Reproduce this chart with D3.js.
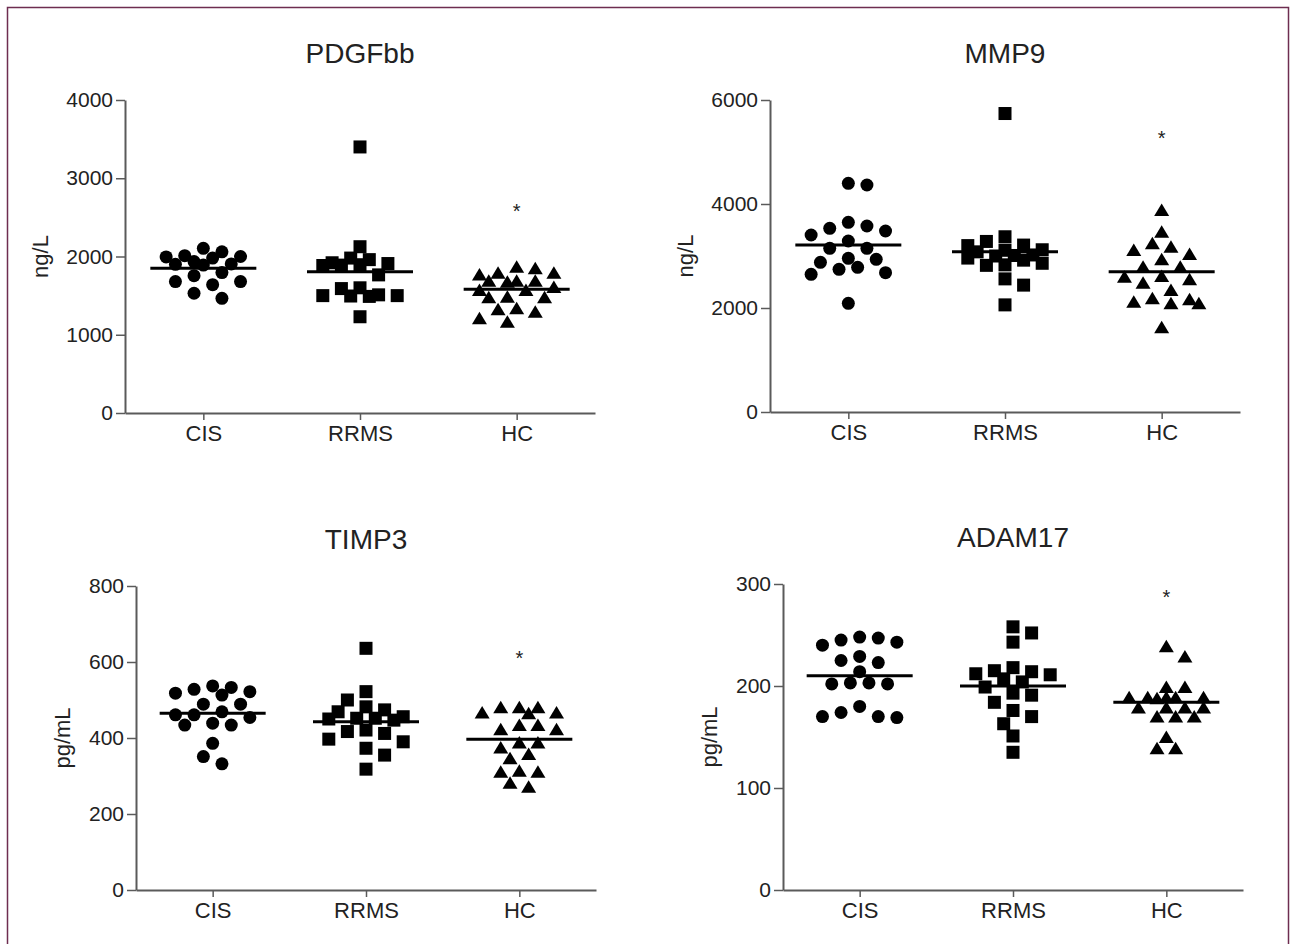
<!DOCTYPE html>
<html>
<head>
<meta charset="utf-8">
<script src="https://cdn.jsdelivr.net/npm/d3@7"></script>
<style>
  body { margin: 0; background: #fff; }
  svg text { font-family: "Liberation Sans", Arial, sans-serif; fill: #222; }
</style>
</head>
<body>
<script>
// groups and panel info
var groups = ["CIS", "RRMS", "HC"];
var panelTitles = ["PDGFbb", "MMP9", "TIMP3", "ADAM17"];
var units = ["ng/L", "ng/L", "pg/mL", "pg/mL"];
var yMaxes = [4000, 6000, 800, 300];
var yTickValues = [[0, 1000, 2000, 3000, 4000], [0, 2000, 4000, 6000], [0, 200, 400, 600, 800], [0, 100, 200, 300]];

// PDGFbb (ng/L)
var pdgfbbCIS = [2105, 2060, 2010, 2000, 1995, 1980, 1935, 1905, 1900, 1890, 1795, 1755, 1680, 1640, 1680, 1530, 1465];
var pdgfbbRRMS = [3400, 2125, 1980, 1960, 1920, 1910, 1895, 1890, 1885, 1765, 1600, 1590, 1510, 1500, 1500, 1495, 1490, 1230];
var pdgfbbHC = [1870, 1793, 1691, 1770, 1678, 1691, 1793, 1691, 1849, 1572, 1610, 1572, 1478, 1478, 1487, 1338, 1295, 1325, 1167, 1210];
var pdgfbbMeans = [1849, 1806, 1580];

// MMP9 (ng/L)
var mmp9CIS = [4365, 4397, 3481, 3577, 3532, 3647, 3404, 3288, 3147, 3147, 2936, 2955, 2782, 2679, 2647, 2744, 2878, 2090];
var mmp9RRMS = [5740, 3370, 3280, 3210, 3200, 3120, 3110, 3080, 3020, 3010, 3000, 2960, 2920, 2860, 2830, 2820, 2560, 2440, 2060];
var mmp9HC = [3885, 3467, 3179, 3038, 3115, 3244, 2936, 2795, 2795, 2603, 2487, 2552, 2615, 2346, 2167, 2090, 2090, 2122, 2186, 1628];
var mmp9Means = [3212, 3083, 2699];

// TIMP3 (pg/mL)
var timp3CIS = [537, 518, 528, 533, 513, 522, 489, 489, 461, 469, 461, 434, 434, 439, 386, 351, 332, 454];
var timp3RRMS = [636, 522, 500, 482, 474, 469, 456, 452, 447, 450, 452, 421, 412, 417, 390, 397, 373, 355, 318];
var timp3HC = [481, 481, 481, 465, 467, 467, 434, 423, 423, 434, 388, 388, 375, 358, 347, 311, 311, 314, 272, 282];
var timp3Means = [465, 443, 397];

// ADAM17 (pg/mL)
var adam17CIS = [248, 245, 243, 247, 240, 229, 223, 225, 214, 203, 202, 202, 203, 180, 170, 169, 170, 174];
var adam17RRMS = [258, 243, 252, 212, 215, 218, 211, 214, 207, 204, 199, 193, 191, 184, 176, 170, 163, 151, 135];
var adam17HC = [239, 229, 199, 199, 189, 189, 189, 189, 189, 188, 179, 179, 179, 179, 170, 170, 170, 150, 139, 139];
var adam17Means = [210, 200, 184];

// significance marks above HC
var starValues = [2636, 5340, 621, 291];

var panelData = [
  [pdgfbbCIS, pdgfbbRRMS, pdgfbbHC],
  [mmp9CIS, mmp9RRMS, mmp9HC],
  [timp3CIS, timp3RRMS, timp3HC],
  [adam17CIS, adam17RRMS, adam17HC]
];
var panelMeans = [pdgfbbMeans, mmp9Means, timp3Means, adam17Means];

// layout of the four panels (pixel boxes of the axes)
var layout = [
  {x0: 125, x1: 595, yTop: 100, yBot: 413},
  {x0: 770, x1: 1240, yTop: 100, yBot: 412},
  {x0: 136, x1: 596, yTop: 586, yBot: 890},
  {x0: 783, x1: 1243, yTop: 584, yBot: 890}
];

var w = 1294, h = 944;
var axis_color = "#5a5a5a";
var tick_font_size = 21;
var label_font_size = 22;
var title_font_size = 28;
var col_step = 9.3;   // half a column of the dot plot
var max_k = 4;        // widest offset, in half columns
var min_dist = 14;
var mean_width = 106;

var svg = d3.select("body").append("svg")
  .attr("width", w).attr("height", h);

// frame
svg.append("rect")
  .attr("x", 7.5).attr("y", 7.5)
  .attr("width", 1281).attr("height", 960)
  .attr("fill", "none")
  .attr("stroke", "#6e2d50")
  .attr("stroke-width", 1.5);

// bounded beeswarm: nearest free slot, else the slot with the least overlap
var swarm = function(values, y){
  var pts = values.map(function(v){ return {v: v, py: y(v)}; })
    .sort(function(a, b){ return a.py - b.py; });
  var placed = [];
  pts.forEach(function(p, i){
    var best = null, bestD = -1;
    for (var k = 0; k <= max_k && best === null; k++){
      var cands = k == 0 ? [0] : (i % 2 ? [k, -k] : [-k, k]);
      for (var c = 0; c < cands.length; c++){
        var x = cands[c] * col_step;
        var d = d3.min(placed, function(q){ return Math.hypot(q.dx - x, q.py - p.py); });
        if (d === undefined) d = Infinity;
        if (d >= min_dist){ best = x; break; }
        if (d > bestD){ bestD = d; p.dx = x; }
      }
    }
    if (best !== null) p.dx = best;
    placed.push(p);
  });
  return placed;
}

var triangle = "M0,-6.5L7.5,6L-7.5,6Z";

panelData.forEach(function(series, pi){
  var L = layout[pi];
  var g = svg.append("g");

  var x = d3.scalePoint().domain(groups).range([L.x0, L.x1]).padding(0.5);
  var y = d3.scaleLinear().domain([0, yMaxes[pi]]).range([L.yBot, L.yTop]);

  // y axis
  var ya = g.append("g")
    .attr("transform", "translate(" + L.x0 + ",0)")
    .call(d3.axisLeft(y).tickValues(yTickValues[pi]).tickFormat(d3.format("d"))
      .tickSize(9).tickSizeOuter(0).tickPadding(3));
  // x axis
  var xa = g.append("g")
    .attr("transform", "translate(0," + L.yBot + ")")
    .call(d3.axisBottom(x).tickSize(7).tickSizeOuter(0).tickPadding(5));

  [ya, xa].forEach(function(a){
    a.select(".domain").attr("stroke", axis_color).attr("stroke-width", 2);
    a.selectAll(".tick line").attr("stroke", axis_color).attr("stroke-width", 1.5);
  });
  ya.selectAll(".tick text").attr("font-size", tick_font_size).attr("fill", "#222");
  xa.selectAll(".tick text").attr("font-size", label_font_size).attr("fill", "#222");

  // title
  g.append("text")
    .attr("x", (L.x0 + L.x1) / 2)
    .attr("y", L.yTop - 37)
    .attr("text-anchor", "middle")
    .attr("font-size", title_font_size)
    .text(panelTitles[pi]);

  // y label
  var nchar = String(yMaxes[pi]).length;
  var lx = L.x0 - (39 + 11.5 * nchar);
  var ly = (L.yTop + L.yBot) / 2;
  g.append("text")
    .attr("transform", "translate(" + lx + "," + ly + ") rotate(-90)")
    .attr("text-anchor", "middle")
    .attr("dy", "0.35em")
    .attr("font-size", label_font_size)
    .text(units[pi]);

  // points
  series.forEach(function(vals, gi){
    var cx = x(groups[gi]);
    var pts = swarm(vals, y);
    var sel = g.append("g").selectAll("path").data(pts).enter();
    if (gi == 0){
      sel.append("circle")
        .attr("cx", function(d){ return cx + d.dx; })
        .attr("cy", function(d){ return d.py; })
        .attr("r", 6.5)
        .attr("fill", "#000");
    } else if (gi == 1){
      sel.append("rect")
        .attr("x", function(d){ return cx + d.dx - 6.5; })
        .attr("y", function(d){ return d.py - 6.5; })
        .attr("width", 13).attr("height", 13)
        .attr("fill", "#000");
    } else {
      sel.append("path")
        .attr("d", triangle)
        .attr("transform", function(d){ return "translate(" + (cx + d.dx) + "," + d.py + ")"; })
        .attr("fill", "#000");
    }

    // mean line
    g.append("line")
      .attr("x1", cx - mean_width / 2).attr("x2", cx + mean_width / 2)
      .attr("y1", y(panelMeans[pi][gi])).attr("y2", y(panelMeans[pi][gi]))
      .attr("stroke", "#000").attr("stroke-width", 3);
  });

  // star
  g.append("text")
    .attr("x", x("HC"))
    .attr("y", y(starValues[pi]))
    .attr("dy", "0.55em")
    .attr("text-anchor", "middle")
    .attr("font-size", 20)
    .text("*");
});
</script>
</body>
</html>
